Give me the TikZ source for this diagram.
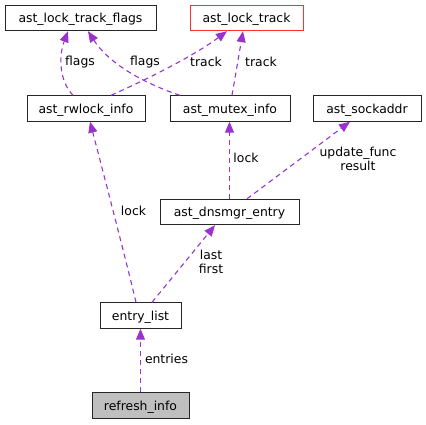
\documentclass[tikz,border=0pt]{standalone}
\usepackage{fontspec}
\setmainfont{DejaVu Sans}
\usetikzlibrary{arrows.meta}
\definecolor{edgecol}{HTML}{9A32CD}
\definecolor{boxgray}{HTML}{BFBFBF}
\definecolor{boxred}{HTML}{FF3030}
\begin{document}
\begin{tikzpicture}[x=1pt,y=-1pt,
  every node/.style={font=\fontsize{12.4}{14}\selectfont, inner sep=0pt},
  cls/.style={draw=black!85, line width=0.9pt, minimum height=25.5pt, text depth=0pt, anchor=center},
  lbl/.style={align=center},
  dep/.style={draw=edgecol, line width=1.1pt, dash pattern=on 5pt off 4pt,
    -{Triangle[length=11pt,width=9pt,fill=edgecol]}, shorten >=0pt},
]
\useasboundingbox (0,0) rectangle (426,424);
% classes
\node[cls, minimum width=151pt] (fl) at (80.5,18) {ast\_lock\_track\_flags};
\node[cls, draw=boxred, minimum width=113pt] (lt) at (246.5,18) {ast\_lock\_track};
\node[cls, minimum width=118pt] (rw) at (86,108.5) {ast\_rwlock\_info};
\node[cls, minimum width=120pt] (mu) at (230,108.5) {ast\_mutex\_info};
\node[cls, minimum width=108pt] (so) at (367,108.5) {ast\_sockaddr};
\node[cls, minimum width=139pt] (dn) at (229.5,212) {ast\_dnsmgr\_entry};
\node[cls, minimum width=81pt] (el) at (140.5,315.5) {entry\_list};
\node[cls, fill=boxgray, minimum width=97pt] (ri) at (140.5,405.5) {refresh\_info};
% edges
\draw[dep] ([xshift=-13pt]rw.north) .. controls (60,82) and (58,58) .. ([xshift=-12.5pt]fl.south);
\draw[dep] ([xshift=25pt]rw.north) .. controls (150,78) and (195,55) .. ([xshift=-19.5pt]lt.south);
\draw[dep] ([xshift=-50pt]mu.north) .. controls (140,82) and (108,62) .. ([xshift=7.5pt]fl.south);
\draw[dep] ([xshift=2pt]mu.north) -- ([xshift=-3.5pt]lt.south);
\draw[dep] (dn.north) -- (dn.north |- mu.south);
\draw[dep] ([xshift=17.5pt]dn.north) -- ([xshift=-17pt]so.south);
\draw[dep] ([xshift=-4.5pt]el.north) .. controls (126,260) and (100,160) .. ([xshift=4pt]rw.south);
\draw[dep] ([xshift=11.5pt]el.north) -- ([xshift=-14.5pt]dn.south);
\draw[dep] (ri.north) -- (el.south);
% labels
\node[lbl] (l1) at (80,62) {flags};
\node[lbl] (l2) at (145,62) {flags};
\node[lbl] (l3) at (206,62) {track};
\node[lbl] (l4) at (261,62) {track};
\node[lbl] (l5) at (246,158) {lock};
\node[lbl] (l6) at (358,159) {update\_func\\result};
\node[lbl] (l7) at (133.5,211) {lock};
\node[lbl] (l8) at (211,262) {last\\first};
\node[lbl] (l9) at (166.5,359) {entries};
\end{tikzpicture}
\end{document}
